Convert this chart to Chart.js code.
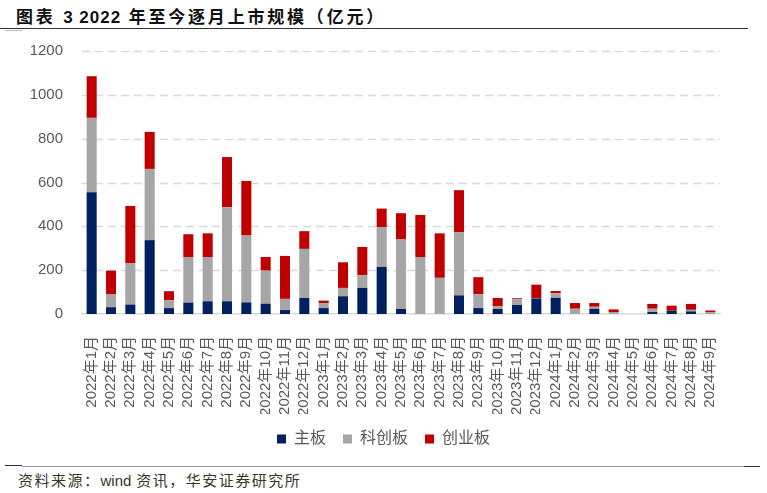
<!DOCTYPE html>
<html>
<head>
<meta charset="utf-8">
<script src="https://cdn.jsdelivr.net/npm/chart.js@4/dist/chart.umd.min.js"></script>
<style>
  body { margin: 0; width: 767px; height: 493px; background: #fff; position: relative; overflow: hidden; font-family: "Liberation Sans", "Noto Sans CJK SC", sans-serif; }
  #title { position: absolute; left: 16px; top: 3px; font-size: 17px; font-weight: bold; letter-spacing: 2.8px; color: #111; font-family: "Liberation Sans", "Noto Sans CJK SC", sans-serif; white-space: nowrap; }
  #title b { letter-spacing: 1px; }
  #topline { position: absolute; left: 0; top: 28px; width: 748px; height: 1px; background: #333; }
  #topmark { position: absolute; left: 5px; top: 30px; width: 17px; height: 1px; background: #bbb; }
  #box { position: absolute; left: 0; top: 0; width: 767px; height: 457px; }
  #botline { position: absolute; left: 22px; top: 466px; width: 722px; height: 1px; background: #999; }
  #botmark1 { position: absolute; left: 5px; top: 465px; width: 17px; height: 1px; background: #333; }
  #botmark2 { position: absolute; left: 744px; top: 466px; width: 16px; height: 1px; background: #333; }
  #source { position: absolute; left: 18px; top: 469px; font-size: 15px; letter-spacing: 1.5px; color: #3a3526; font-family: "Noto Sans CJK SC", sans-serif; white-space: nowrap; }
</style>
</head>
<body>
<div id="title">图表 <b>3 2022</b> 年至今逐月上市规模（亿元）</div>
<div id="topline"></div>
<div id="topmark"></div>
<div id="box"><canvas id="myChart"></canvas></div>
<div id="botline"></div>
<div id="botmark1"></div>
<div id="botmark2"></div>
<div id="source">资料来源：<span style="font-family: 'Liberation Sans'; letter-spacing: 0">wind</span> 资讯，华安证券研究所</div>
<script>
// meses
let months = ["2022年1月","2022年2月","2022年3月","2022年4月","2022年5月","2022年6月","2022年7月","2022年8月","2022年9月","2022年10月","2022年11月","2022年12月",
  "2023年1月","2023年2月","2023年3月","2023年4月","2023年5月","2023年6月","2023年7月","2023年8月","2023年9月","2023年10月","2023年11月","2023年12月",
  "2024年1月","2024年2月","2024年3月","2024年4月","2024年5月","2024年6月","2024年7月","2024年8月","2024年9月"];

// 主板
let mainBoard = [556, 31, 43, 337, 27, 52, 58, 58, 53, 47, 18, 73,
  27, 81, 119, 215, 23, 0, 0, 85, 27, 23, 41, 71,
  74, 0, 24, 0, 0, 9, 15, 12, 0];

// 科创板
let starBoard = [339, 58, 188, 325, 36, 208, 202, 429, 305, 151, 51, 224,
  23, 38, 58, 182, 317, 260, 165, 289, 63, 12, 26, 2,
  20, 24, 9, 9, 0, 15, 0, 7, 9];

// 创业板
let gemBoard = [190, 109, 262, 169, 41, 104, 108, 229, 249, 62, 196, 81,
  11, 117, 129, 84, 120, 192, 203, 191, 78, 38, 5, 61,
  11, 26, 17, 12, 0, 22, 23, 27, 7];

let yTicks = [0, 200, 400, 600, 800, 1000, 1200];

let gray = "#595959";

// lineas punteadas de la rejilla, usando la escala y
let dashedGrid = {
  id: "dashedGrid",
  beforeDatasetsDraw(chart) {
    let c = chart.ctx;
    let area = chart.chartArea;
    let y = chart.scales.y;
    c.save();
    c.strokeStyle = "#D9D9D9";
    c.lineWidth = 1.5;
    c.setLineDash([8, 5]);
    yTicks.forEach(v => {
      if (v === 0) return;
      let py = Math.round(y.getPixelForValue(v)) + 0.5;
      c.beginPath();
      c.moveTo(area.left, py);
      c.lineTo(area.right, py);
      c.stroke();
    });
    c.restore();
  }
};

let ctx = document.getElementById("myChart").getContext("2d");
let chart = new Chart(ctx, {
  type: "bar",
  data: {
    labels: months,
    datasets: [
      { label: "主板", data: mainBoard, backgroundColor: "#002060" },
      { label: "科创板", data: starBoard, backgroundColor: "#A6A6A6" },
      { label: "创业板", data: gemBoard, backgroundColor: "#C00000" }
    ]
  },
  plugins: [dashedGrid],
  options: {
    responsive: true,
    maintainAspectRatio: false,
    animation: false,
    datasets: { bar: { barPercentage: 0.52, categoryPercentage: 1 } },
    layout: { padding: { top: 51, right: 0, left: 0, bottom: 0 } },
    plugins: {
      tooltip: { enabled: false },
      legend: {
        position: "bottom",
        labels: {
          color: gray,
          boxWidth: 9,
          boxHeight: 9,
          padding: 17,
          font: { size: 16, family: "'Liberation Sans', 'Noto Sans CJK SC', sans-serif" }
        }
      }
    },
    scales: {
      x: {
        stacked: true,
        grid: { display: false },
        border: { display: true, color: "#D9D9D9", width: 1.5 },
        ticks: {
          color: gray,
          autoSkip: false,
          minRotation: 90,
          maxRotation: 90,
          padding: 14,
          font: { size: 15, family: "'Liberation Sans', 'Noto Sans CJK SC', sans-serif" }
        },
        afterFit: scale => { scale.height = 100; }
      },
      y: {
        stacked: true,
        min: 0,
        max: 1200,
        afterBuildTicks: scale => { scale.ticks = yTicks.map(v => ({ value: v })); },
        grid: { display: false },
        border: { display: false },
        ticks: {
          color: gray,
          padding: 11,
          callback: v => v,
          font: { size: 15, family: "'Liberation Sans', sans-serif" }
        },
        afterFit: scale => { scale.width = 82; }
      },
      // eje vacio a la derecha, solo para dejar el margen
      yr: {
        position: "right",
        min: 0,
        max: 1,
        grid: { display: false },
        border: { display: false },
        ticks: { display: false },
        afterFit: scale => { scale.width = 47; }
      }
    }
  }
});
</script>
</body>
</html>
